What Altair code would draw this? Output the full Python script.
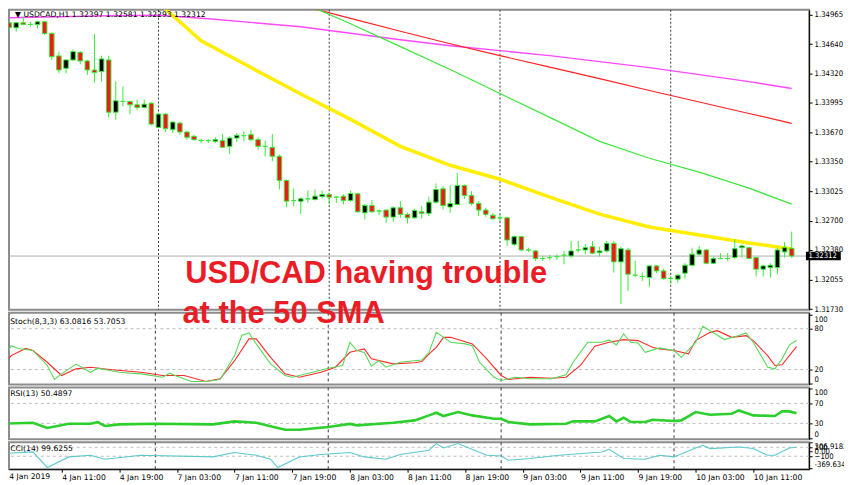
import altair as alt
import numpy as np
import pandas as pd

# ---------------- data ----------------
OPEN = [1.34874, 1.34819, 1.34874, 1.34856, 1.34856, 1.34885, 1.34757, 1.34510, 1.34374, 1.34466,
        1.34549, 1.34455, 1.34356, 1.34338, 1.34466, 1.33892, 1.34010, 1.34010, 1.33973, 1.33944,
        1.33991, 1.33725, 1.33871, 1.33700, 1.33772, 1.33674, 1.33627, 1.33580, 1.33580, 1.33572,
        1.33580, 1.33517, 1.33608, 1.33634, 1.33645, 1.33590, 1.33517, 1.33506, 1.33408, 1.33142,
        1.32921, 1.32915, 1.32940, 1.32934, 1.32967, 1.32989, 1.32959, 1.32970, 1.32923, 1.32995,
        1.32787, 1.32868, 1.32806, 1.32817, 1.32740, 1.32842, 1.32770, 1.32732, 1.32798, 1.32781,
        1.32904, 1.33050, 1.32850, 1.32879, 1.33087, 1.32978, 1.32890, 1.32817, 1.32759, 1.32732,
        1.32732, 1.32441, 1.32525, 1.32379, 1.32368, 1.32284, 1.32295, 1.32306, 1.32321, 1.32313,
        1.32379, 1.32379, 1.32415, 1.32349, 1.32368, 1.32452, 1.32248, 1.32379, 1.32102, 1.32087,
        1.32076, 1.32204, 1.32149, 1.32065, 1.32058, 1.32124, 1.32211, 1.32332, 1.32379, 1.32233,
        1.32284, 1.32284, 1.32295, 1.32404, 1.32404, 1.32295, 1.32168, 1.32185, 1.32185, 1.32357,
        1.32397]
HIGH = [1.34918, 1.34885, 1.34940, 1.34885, 1.34893, 1.34893, 1.34768, 1.34557, 1.34466, 1.34582,
        1.34564, 1.34466, 1.34750, 1.34513, 1.34513, 1.34228, 1.34174, 1.34017, 1.34028, 1.34031,
        1.33999, 1.33882, 1.33882, 1.33791, 1.33783, 1.33689, 1.33645, 1.33601, 1.33597, 1.33616,
        1.33652, 1.33627, 1.33663, 1.33681, 1.33700, 1.33616, 1.33580, 1.33652, 1.33426, 1.33153,
        1.33054, 1.32959, 1.33032, 1.33043, 1.33032, 1.33006, 1.32970, 1.32989, 1.33032, 1.33006,
        1.32886, 1.32923, 1.32824, 1.32824, 1.32860, 1.32915, 1.32787, 1.32831, 1.32860, 1.32962,
        1.33109, 1.33079, 1.33087, 1.33225, 1.33098, 1.33025, 1.32915, 1.32842, 1.32787, 1.32781,
        1.32743, 1.32540, 1.32532, 1.32404, 1.32379, 1.32313, 1.32324, 1.32332, 1.32368, 1.32477,
        1.32477, 1.32441, 1.32477, 1.32415, 1.32477, 1.32477, 1.32415, 1.32404, 1.32259, 1.32131,
        1.32211, 1.32215, 1.32174, 1.32094, 1.32113, 1.32233, 1.32404, 1.32423, 1.32387, 1.32306,
        1.32343, 1.32343, 1.32496, 1.32441, 1.32415, 1.32302, 1.32211, 1.32233, 1.32404, 1.32466,
        1.32581]
LOW = [1.34776, 1.34776, 1.34852, 1.34830, 1.34812, 1.34740, 1.34466, 1.34319, 1.34319, 1.34455,
       1.34418, 1.34302, 1.34217, 1.34228, 1.33834, 1.33809, 1.33955, 1.33871, 1.33919, 1.33933,
       1.33747, 1.33717, 1.33674, 1.33663, 1.33645, 1.33590, 1.33580, 1.33553, 1.33553, 1.33553,
       1.33499, 1.33433, 1.33564, 1.33572, 1.33572, 1.33481, 1.33408, 1.33353, 1.33043, 1.32850,
       1.32860, 1.32776, 1.32897, 1.32923, 1.32945, 1.32879, 1.32897, 1.32879, 1.32908, 1.32787,
       1.32715, 1.32787, 1.32762, 1.32678, 1.32689, 1.32732, 1.32671, 1.32721, 1.32721, 1.32751,
       1.32890, 1.32824, 1.32787, 1.32868, 1.32940, 1.32868, 1.32751, 1.32743, 1.32715, 1.32696,
       1.32423, 1.32423, 1.32368, 1.32357, 1.32259, 1.32259, 1.32270, 1.32270, 1.32222, 1.32295,
       1.32349, 1.32332, 1.32332, 1.32306, 1.32349, 1.32131, 1.31785, 1.31930, 1.32076, 1.32040,
       1.31977, 1.32127, 1.32051, 1.32004, 1.32021, 1.32065, 1.32204, 1.32321, 1.32222, 1.32226,
       1.32277, 1.32259, 1.32284, 1.32295, 1.32277, 1.32087, 1.32087, 1.32076, 1.32113, 1.32295,
       1.32293]
CLOSE = [1.34819, 1.34874, 1.34856, 1.34856, 1.34885, 1.34757, 1.34502, 1.34356, 1.34466, 1.34557,
         1.34455, 1.34356, 1.34327, 1.34477, 1.33892, 1.34017, 1.34010, 1.33973, 1.33944, 1.33980,
         1.33761, 1.33871, 1.33711, 1.33783, 1.33674, 1.33616, 1.33590, 1.33580, 1.33580, 1.33590,
         1.33506, 1.33608, 1.33638, 1.33634, 1.33590, 1.33517, 1.33517, 1.33408, 1.33142, 1.32915,
         1.32921, 1.32940, 1.32940, 1.32970, 1.32989, 1.32959, 1.32959, 1.32923, 1.32999, 1.32798,
         1.32868, 1.32798, 1.32806, 1.32740, 1.32842, 1.32770, 1.32732, 1.32813, 1.32781, 1.32904,
         1.33043, 1.32868, 1.32890, 1.33087, 1.32978, 1.32890, 1.32817, 1.32770, 1.32721, 1.32732,
         1.32488, 1.32525, 1.32379, 1.32379, 1.32284, 1.32284, 1.32295, 1.32306, 1.32321, 1.32368,
         1.32379, 1.32404, 1.32343, 1.32368, 1.32452, 1.32248, 1.32393, 1.32113, 1.32102, 1.32087,
         1.32204, 1.32149, 1.32065, 1.32065, 1.32102, 1.32211, 1.32332, 1.32379, 1.32233, 1.32284,
         1.32284, 1.32284, 1.32393, 1.32423, 1.32284, 1.32168, 1.32204, 1.32211, 1.32379, 1.32404,
         1.32312]

PRICE_TICKS = [1.34965, 1.34640, 1.34320, 1.33995, 1.33670, 1.33350,
               1.33025, 1.32700, 1.32380, 1.32055, 1.31730]
TIME_LABELS = ["4 Jan 2019", "4 Jan 11:00", "4 Jan 19:00", "7 Jan 03:00", "7 Jan 11:00",
               "7 Jan 19:00", "8 Jan 03:00", "8 Jan 11:00", "8 Jan 19:00", "9 Jan 03:00",
               "9 Jan 11:00", "9 Jan 19:00", "10 Jan 03:00", "10 Jan 11:00"]
TIME_LABEL_BARS = [0, 8, 16, 24, 32, 40, 48, 56, 64, 72, 80, 88, 96, 104]
DAY_BREAK_BARS = [21, 45, 69, 93]

SMA50_BARS = [14, 21, 27, 34, 41, 48, 55, 62, 69, 76, 83, 90, 97, 104, 110]
SMA50 = [1.35542, 1.35093, 1.34677, 1.34382, 1.34092, 1.33813, 1.33517, 1.33309, 1.33156,
         1.32959, 1.32773, 1.32631, 1.32543, 1.32456, 1.32390]
SMA_GREEN_BARS = [40, 48, 55, 62, 69, 76, 83, 90, 97, 104, 110]
SMA_GREEN = [1.35137, 1.34863, 1.34612, 1.34360, 1.34097, 1.33835, 1.33572, 1.33386, 1.33233,
             1.33058, 1.32882]
SMA_RED_BARS = [38, 48, 55, 62, 69, 76, 83, 90, 97, 104, 110]
SMA_RED = [1.35126, 1.34923, 1.34781, 1.34644, 1.34513, 1.34387, 1.34261, 1.34130, 1.34004,
           1.33878, 1.33769]
SMA_MAG_BARS = [0, 14, 21, 28, 41, 55, 62, 69, 76, 83, 90, 97, 104, 110]
SMA_MAG = [1.34929, 1.34951, 1.34956, 1.34918, 1.34830, 1.34688, 1.34622, 1.34568, 1.34513,
           1.34447, 1.34382, 1.34305, 1.34228, 1.34152]

STOCH_K_BARS = [0, 1, 2, 4, 6, 7, 8, 10, 12, 13, 16, 19, 22, 23, 24, 26, 28, 30, 32, 33, 34, 35,
                37, 39, 40, 42, 45, 47, 48, 49, 50, 51, 52, 53, 55, 58, 59, 60, 62, 64, 65, 66,
                68, 69, 71, 73, 76, 78, 79, 81, 83, 84, 85, 86, 87, 88, 89, 91, 93, 94, 96, 97,
                98, 100, 102, 103, 104, 106, 107, 108, 109, 110]
STOCH_K = [35.7, 55, 51, 48, 26, 5.4, 13.7, 28, 16, 22, 16, 13.7, 8.8, 14.6, 10, 2.5, 2.5, 5.4,
           40.5, 70, 73.7, 57.7, 28.4, 11.3, 8.8, 13.8, 22, 26, 60, 47.9, 45, 24.9, 33, 23.4,
           30.7, 34, 45.4, 74.6, 60, 57.7, 55, 30.7, 8.8, 4, 8.8, 6.4, 6.4, 12.3, 30.7, 60, 60,
           63.5, 56, 72.3, 60, 59, 45.4, 51.8, 47.9, 38, 60, 83.4, 77, 64, 70, 73.8, 60, 23.4,
           21, 35.7, 56, 63.08]
STOCH_D_BARS = [0, 1, 3, 4, 6, 8, 10, 12, 15, 19, 22, 25, 28, 30, 32, 34, 35, 37, 39, 41, 44,
                46, 48, 50, 51, 54, 57, 58, 59, 60, 61, 62, 65, 67, 69, 70, 73, 76, 78, 80, 82,
                84, 86, 88, 90, 91, 93, 95, 96, 98, 99, 101, 103, 104, 106, 107, 108, 110]
STOCH_D = [27, 40.5, 51, 48, 30.7, 11.3, 21, 23.4, 19.6, 16, 11.3, 11.3, 2.5, 6.4, 33, 65, 65,
           38, 13.8, 8.8, 16, 23.4, 45.4, 50.3, 35.7, 28.4, 29.9, 31.8, 43, 52.7, 67.3, 67.3,
           57.7, 35.7, 11.3, 5.4, 8.8, 7.3, 8.8, 26, 54.2, 60, 64, 62.5, 52.7, 50.3, 47.9, 43,
           62.5, 74.6, 77.1, 67.3, 69.8, 62.5, 40.5, 25.9, 27, 53.71]

RSI_BARS = [0, 4, 6, 9, 12, 13, 14, 16, 21, 29, 32, 35, 39, 41, 45, 48, 49, 54, 57, 59, 60, 61,
            63, 65, 68, 69, 70, 73, 78, 79, 82, 84, 85, 86, 87, 89, 90, 93, 94, 96, 98, 101,
            102, 104, 107, 108, 109, 110]
RSI = [29.3, 31.3, 20.7, 29.3, 29.3, 32.7, 24.7, 28, 29.3, 28, 34, 31.3, 17.3, 17.3, 22.7, 29,
       26, 31.3, 36, 46, 51.3, 44.7, 52.7, 46, 39.3, 39.3, 32.7, 28, 29.3, 34, 34, 44.7, 34,
       41.3, 32.7, 32.7, 37.3, 34.7, 36, 52.7, 47.3, 49.3, 56, 46, 44.7, 54, 54, 50.49]

CCI_BARS = [0, 4, 6, 9, 12, 14, 19, 29, 32, 35, 37, 38, 41, 44, 48, 50, 53, 55, 59, 60, 61, 63,
            67, 69, 70, 73, 77, 83, 84, 86, 89, 91, 93, 96, 97, 98, 102, 104, 106, 107, 109, 110]
CCI = [-40, -4, -351, -115, -78, -167, -78, -115, -18, -78, -167, -351, -115, -62, -18, -115,
       -167, -62, 33, 182, 85, 182, -78, -93, -189, -152, -78, -4, 56, -152, -167, -78, -115,
       85, 144, 71, 107, 71, -78, -78, 85, 99.63]

NOTE_LINES = ["USD/CAD having trouble", "at the 50 SMA"]

# ---------------- styling ----------------
W = 803
H_MAIN, H_STOCH, H_RSI, H_CCI = 301, 72, 52, 27
X_DOM = [0.69, 111.75]
PRICE_DOM = [1.31722, 1.35016]
STOCH_DOM = [-1.95, 103.4]
CCI_DOM = [-389, 211]
WICK = "#35ec35"
FONT = "DejaVu Sans"
AXFONT = "DejaVu Sans Condensed"
FS = 7.7
NOTE_STYLE = dict(align="left", baseline="alphabetic", font="Liberation Sans",
                  fontWeight="bold", fontSize=31, color="#ea1d26")

candles = pd.DataFrame({"bar": list(range(len(OPEN))), "open": OPEN, "high": HIGH,
                        "low": LOW, "close": CLOSE})
candles["kind"] = np.where(candles["close"] > candles["open"], "bull",
                           np.where(candles["close"] < candles["open"], "bear", "doji"))
days = pd.DataFrame({"bar": DAY_BREAK_BARS})


def yaxis(values, **kw):
    return alt.Axis(orient="right", values=values, title=None, grid=False, tickSize=3,
                    tickColor="black", domainColor="black", labelColor="black",
                    labelFont=AXFONT, labelFontSize=FS, labelPadding=2, **kw)


labels_js = "[" + ",".join(f"'{t}'" for t in TIME_LABELS) + "]"
TIME_AXIS = alt.Axis(values=TIME_LABEL_BARS, title=None, grid=False, tickSize=3,
                     labelAlign="left", labelFlush=False, labelOverlap=False,
                     labelPadding=1, labelFont=FONT, labelFontSize=FS,
                     labelColor="black", tickColor="black", domainColor="black",
                     labelExpr=labels_js + "[round(datum.value / 8)]")


class Panel:
    """Helper that gives every layer of a panel identical scales and axes."""

    def __init__(self, ydom, yax, xax=None):
        self.ys = alt.Scale(domain=ydom, nice=False, zero=False)
        self.yax = yax
        self.xax = xax

    def x(self, field="bar"):
        return alt.X(f"{field}:Q", scale=alt.Scale(domain=X_DOM, nice=False, zero=False),
                     axis=self.xax)

    def y(self, field):
        return alt.Y(f"{field}:Q", scale=self.ys, axis=self.yax)

    def day_rules(self, dash):
        return alt.Chart(days).mark_rule(color="#3a3a3a", strokeDash=dash,
                                         strokeWidth=1).encode(x=self.x())

    def levels(self, vals):
        return alt.Chart(pd.DataFrame({"lv": vals})).mark_rule(
            color="#bdbdbd", strokeDash=[3, 3]).encode(y=self.y("lv"))

    def series(self, bars, vals, color, width):
        df = pd.DataFrame({"bar": bars, "v": vals})
        return alt.Chart(df).mark_line(color=color, strokeWidth=width, clip=True).encode(
            x=self.x(), y=self.y("v"))

    def text(self, txt, bar, yval, baseline="top", dy=0, font=FONT):
        df = pd.DataFrame({"bar": [bar], "v": [yval], "txt": [txt]})
        return alt.Chart(df).mark_text(align="left", baseline=baseline, font=font,
                                       fontSize=FS, color="black", dy=dy).encode(
            x=self.x(), y=self.y("v"), text="txt:N")

    def note(self, txt, bar, yval):
        df = pd.DataFrame({"bar": [bar], "v": [yval], "txt": [txt]})
        return alt.Chart(df).mark_text(**NOTE_STYLE).encode(
            x=self.x(), y=self.y("v"), text="txt:N")


# ---------------- main price panel ----------------
P = Panel(PRICE_DOM, yaxis(PRICE_TICKS, format=".5f"))
last = CLOSE[-1]
base = alt.Chart(candles)
wicks = base.mark_rule(color=WICK, strokeWidth=1, clip=True).encode(
    x=P.x(), y=P.y("low"), y2="high:Q")
bodies = base.mark_bar(size=4.6, stroke=WICK, strokeWidth=1, clip=True).encode(
    x=P.x(), y=P.y("open"), y2="close:Q",
    fill=alt.Fill("kind:N", scale=alt.Scale(domain=["bull", "bear", "doji"],
                                             range=["#000000", "#f01818", "#000000"]),
                  legend=None))
last_df = pd.DataFrame({"price": [last], "top": [last + 0.00047], "bot": [last - 0.00047],
                        "x0": [112.0], "x1": [116.9], "xt": [112.35],
                        "txt": [f"{last:.5f}"]})
price_line = alt.Chart(last_df).mark_rule(color="#ababab", strokeWidth=1).encode(
    y=P.y("price"))
price_box = alt.Chart(last_df).mark_rect(color="black").encode(
    x=P.x("x0"), x2="x1:Q", y=P.y("top"), y2="bot:Q")
price_txt = alt.Chart(last_df).mark_text(align="left", baseline="middle", font=AXFONT,
                                         fontSize=FS, color="white").encode(
    x=P.x("xt"), y=P.y("price"), text="txt:N")

main = alt.layer(
    P.day_rules([2, 2]), price_line,
    P.series(SMA_MAG_BARS, SMA_MAG, "#ff48ff", 1.4),
    P.series(SMA_RED_BARS, SMA_RED, "#ff2222", 1.2),
    P.series(SMA_GREEN_BARS, SMA_GREEN, "#3ce83c", 1.2),
    P.series(SMA50_BARS, SMA50, "#ffee00", 3.5),
    wicks, bodies,
    P.text(f"\u25bc USDCAD,H1  {OPEN[-1]:.5f} {HIGH[-1]:.5f} {LOW[-1]:.5f} {CLOSE[-1]:.5f}",
           0.85, PRICE_DOM[1], dy=1),
    price_box, price_txt,
    P.note(NOTE_LINES[0], 24.76, 1.32021)
).properties(width=W, height=H_MAIN)

# ---------------- stochastic ----------------
S = Panel(STOCH_DOM, yaxis([0, 20, 80, 100], labelFlush=4))
stoch = alt.layer(
    S.levels([20, 80]), S.day_rules([3, 3]),
    S.series(STOCH_D_BARS, STOCH_D, "#ff2a2a", 1.1),
    S.series(STOCH_K_BARS, STOCH_K, "#5ad85a", 1.1),
    S.text("Stoch(8,3,3) 63.0816 53.7053", 0.85, STOCH_DOM[1], dy=5),
    # second line of the note sits across the panel border, drawn on top of it
    S.note(NOTE_LINES[1], 24.76, 88.8)
).properties(width=W, height=H_STOCH)

# ---------------- RSI ----------------
R = Panel([-2, 102], yaxis([0, 30, 70, 100], labelFlush=4))
rsi = alt.layer(
    R.levels([30, 70]), R.day_rules([3, 3]),
    R.series(RSI_BARS, RSI, "#2ccf2c", 2.6),
    R.text("RSI(13) 50.4897", 0.85, 102, dy=3)
).properties(width=W, height=H_RSI)

# ---------------- CCI ----------------
C = Panel(CCI_DOM,
          yaxis([211, 100, 0, -100, -369.6349], labelFlush=4, labelOverlap=False,
                labelExpr="datum.value > 200 ? '306.9182' : datum.value == 0 ? '0.00' : "
                          "datum.value < -300 ? '-369.6349' : format(datum.value, 'd')"),
          xax=TIME_AXIS)
cci = alt.layer(
    C.levels([100, -100]), C.day_rules([3, 3]),
    C.series(CCI_BARS, CCI, "#5cc9cf", 1.1),
    C.text("CCI(14) 99.6255", 0.85, CCI_DOM[1], dy=3),
    # first time label sits at the very left edge, outside the axis domain
    C.text(TIME_LABELS[0], 0.72, CCI_DOM[0], dy=4)
).properties(width=W, height=H_CCI)

chart = alt.vconcat(main, stoch, rsi, cci, spacing=3, bounds="flush").properties(
    padding={"left": -1, "top": -1, "right": -7, "bottom": 0}
).configure_view(stroke="#8c8c8c", strokeWidth=2)

chart.save("out.html", embed_options={"renderer": "svg", "actions": False})
